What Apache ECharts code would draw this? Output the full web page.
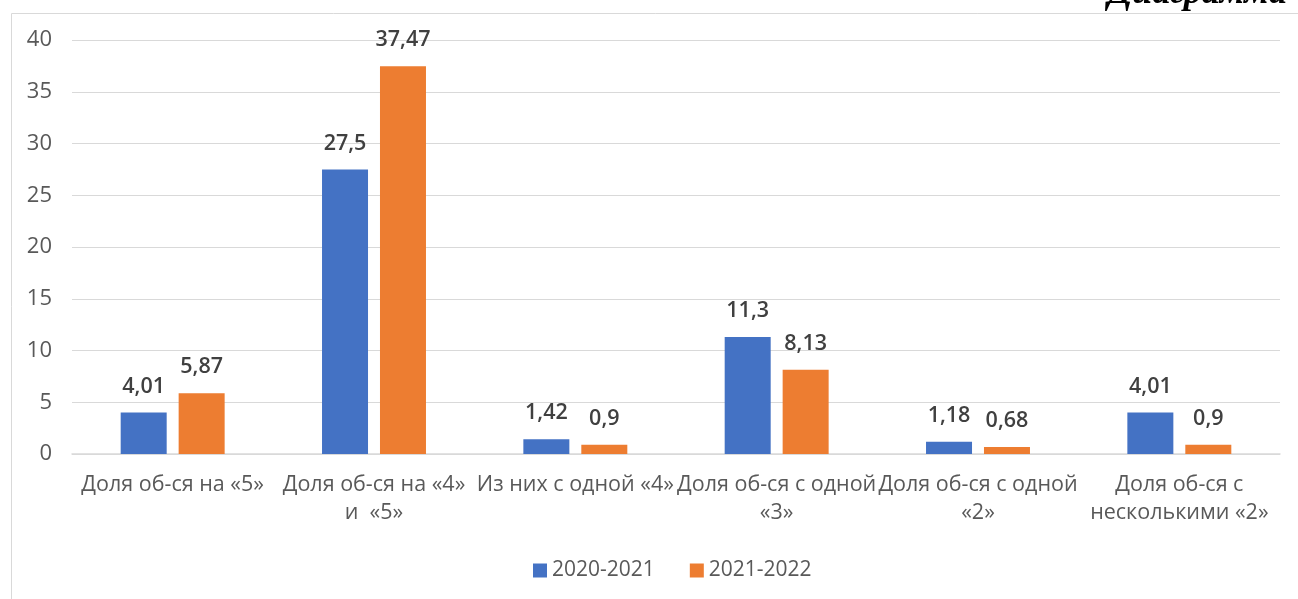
<!DOCTYPE html>
<html><head><meta charset="utf-8">
<script src="https://cdn.jsdelivr.net/npm/echarts@6/dist/echarts.min.js"></script>
<style>html,body{margin:0;padding:0;background:#fff}#c{width:1298px;height:599px}</style>
</head><body><div id="c"></div>
<script>
const categories = ['Доля об-ся на «5»', 'Доля об-ся на «4»\nи  «5»', 'Из них с одной «4»', 'Доля об-ся с одной\n«3»', 'Доля об-ся с одной\n«2»', 'Доля об-ся с\nнесколькими «2»'];
const seriesNames = ['2020-2021', '2021-2022'];
const values2020 = [4.01, 27.5, 1.42, 11.3, 1.18, 4.01];
const values2021 = [5.87, 37.47, 0.9, 8.13, 0.68, 0.9];
const yTicks = [0, 5, 10, 15, 20, 25, 30, 35, 40];
const colors = ['#4472C4', '#ED7D31'];
const font = '"Open Sans", "Noto Sans", sans-serif';

const chart = echarts.init(document.getElementById('c'), null, {renderer: 'canvas'});
const fmt = p => String(p.value).replace('.', ',');
function mk(name, data, color) {
  return {
    name, type: 'bar', data, barWidth: 46, barGap: '26%',
    itemStyle: {color},
    label: {show: true, position: 'top', distance: 15, formatter: fmt,
      fontFamily: font, fontSize: 21.5, fontWeight: 600, color: '#404040'}
  };
}
chart.setOption({
  animation: false,
  color: colors,
  graphic: [
    {type: 'rect', left: 9, top: 11, shape: {width: 1400, height: 700},
     style: {fill: 'none', stroke: '#d9d9d9', lineWidth: 1}, silent: true},
    {type: 'text', right: 11, top: -24,
     style: {text: 'Диаграмма', font: 'italic bold 36px "Liberation Serif", "DejaVu Serif", serif', fill: '#000'}}
  ],
  grid: {left: 72, right: 18, top: 40, bottom: 145, containLabel: false},
  legend: {
    data: seriesNames, top: 555, left: 528, itemWidth: 14, itemHeight: 14, itemGap: 35,
    icon: 'rect', textStyle: {fontFamily: font, fontSize: 21, fontWeight: 500, color: '#595959'}
  },
  xAxis: {
    type: 'category', data: categories,
    axisLine: {lineStyle: {color: '#d9d9d9', width: 1.5}},
    axisTick: {show: false},
    axisLabel: {interval: 0, fontFamily: font, fontSize: 21.5, fontWeight: 500, color: '#595959', lineHeight: 28, margin: 17}
  },
  yAxis: {
    type: 'value', min: yTicks[0], max: yTicks[yTicks.length - 1], interval: 5,
    axisLine: {show: false}, axisTick: {show: false},
    splitLine: {lineStyle: {color: '#d9d9d9', width: 1}},
    axisLabel: {fontFamily: font, fontSize: 22, fontWeight: 500, color: '#595959', margin: 20}
  },
  series: [mk(seriesNames[0], values2020, colors[0]), mk(seriesNames[1], values2021, colors[1])]
});
</script></body></html>
